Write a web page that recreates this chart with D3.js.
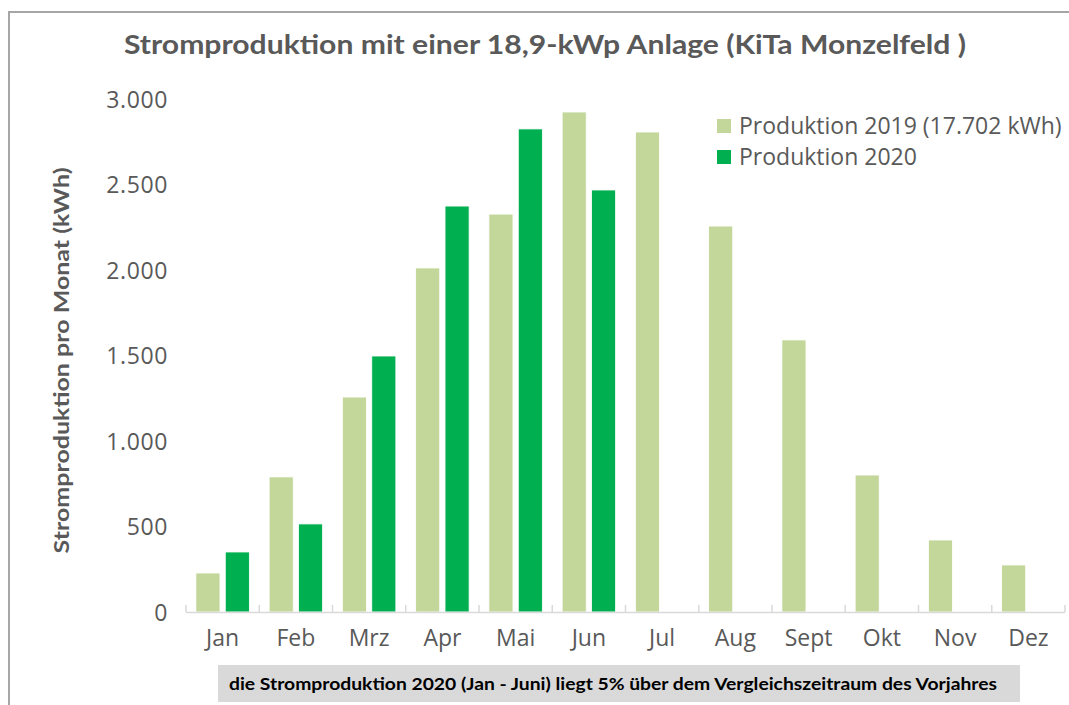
<!DOCTYPE html>
<html><head><meta charset="utf-8">
<script src="https://cdn.jsdelivr.net/npm/d3@7"></script>
<style>
html,body{margin:0;padding:0;background:#fff;}
svg{display:block;}
</style></head>
<body>
<svg id="chart" width="1069" height="705"></svg>
<script>
const months = ["Jan","Feb","Mrz","Apr","Mai","Jun","Jul","Aug","Sept","Okt","Nov","Dez"];
const values2019 = [228, 790, 1257, 2012, 2327, 2924, 2807, 2257, 1591, 801, 421, 275];
const values2020 = [351, 515, 1497, 2374, 2825, 2468, null, null, null, null, null, null];
const seriesNames = ["Produktion 2019 (17.702 kWh)", "Produktion 2020"];
const seriesColors = ["#c4d79b", "#00b050"];
const yTicks = [0, 500, 1000, 1500, 2000, 2500, 3000];
const titleText = "Stromproduktion mit einer 18,9-kWp Anlage (KiTa Monzelfeld )";
const yTitle = "Stromproduktion pro Monat (kWh)";
const noteText = "die Stromproduktion 2020 (Jan - Juni) liegt 5% über dem Vergleichszeitraum des Vorjahres";

(function () {
const svg = d3.select("#chart");
const W = 1069, H = 705;
const pLeft = 186, pRight = 1065, pTop = 99, pBottom = 612;

// frame
svg.append("line").attr("x1", 8).attr("x2", W).attr("y1", 12).attr("y2", 12)
  .attr("stroke", "#a6a6a6").attr("stroke-width", 2);
svg.append("line").attr("x1", 9).attr("x2", 9).attr("y1", 11).attr("y2", H)
  .attr("stroke", "#a6a6a6").attr("stroke-width", 2);

const x0 = d3.scaleBand().domain(months).range([pLeft, pRight]).paddingInner(0.27).paddingOuter(0.135);
const x1 = d3.scaleBand().domain([0, 1]).range([0, x0.bandwidth()]).paddingInner(0.18);
const y = d3.scaleLinear().domain([0, 3000]).range([pBottom, pTop]);

// title
svg.append("text").attr("x", 545).attr("y", 54).attr("text-anchor", "middle")
  .attr("font-family", "Lato, 'Open Sans', sans-serif").attr("font-weight", "bold")
  .attr("font-size", 26).attr("fill", "#595959")
  .attr("textLength", 842).attr("lengthAdjust", "spacingAndGlyphs")
  .text(titleText);

// y axis labels
const yAxis = d3.axisLeft(y).tickValues(yTicks).tickSize(0).tickPadding(0)
  .tickFormat(d => d3.format(",")(d).replace(/,/g, "."));
const gy = svg.append("g").attr("transform", `translate(168,0)`).call(yAxis);
gy.select(".domain").remove();
gy.selectAll("text").attr("font-family", "'Open Sans', sans-serif").attr("font-size", 23)
  .attr("letter-spacing", "0.6px")
  .attr("fill", "#595959").attr("dy", "0.35em");

// y title
svg.append("text").attr("transform", `translate(69,${(553+168)/2}) rotate(-90)`)
  .attr("text-anchor", "middle")
  .attr("font-family", "Lato, 'Open Sans', sans-serif").attr("font-weight", "bold")
  .attr("font-size", 20).attr("fill", "#595959")
  .attr("textLength", 386).attr("lengthAdjust", "spacingAndGlyphs")
  .text(yTitle);

// bars
const data = months.map((m, i) => ({m, v: [values2019[i], values2020[i]]}));
const groups = svg.append("g").selectAll("g").data(data).join("g")
  .attr("transform", d => `translate(${x0(d.m)},0)`);
groups.selectAll("rect").data(d => d.v.map((v, s) => ({v, s})).filter(e => e.v != null))
  .join("rect")
  .attr("x", e => x1(e.s)).attr("width", x1.bandwidth())
  .attr("y", e => y(e.v)).attr("height", e => y(0) - y(e.v))
  .attr("fill", e => seriesColors[e.s])
  .attr("stroke", "#ffffff").attr("stroke-width", 0.8);

// x axis
const xAxis = d3.axisBottom(x0).tickSize(0).tickPadding(0);
const gx = svg.append("g").attr("transform", `translate(0,${pBottom})`).call(xAxis);
gx.select(".domain").remove();
gx.selectAll("text").attr("font-family", "'Open Sans', sans-serif").attr("font-size", 23)
  .attr("fill", "#595959").attr("y", 26).attr("dy", "0.35em");
svg.append("line").attr("x1", pLeft).attr("x2", pRight).attr("y1", pBottom + 0.5).attr("y2", pBottom + 0.5)
  .attr("stroke", "#d9d9d9").attr("stroke-width", 1.5);
const step = x0.step();
const tickXs = d3.range(months.length + 1).map(i => pLeft + i * step);
svg.append("g").selectAll("line").data(tickXs).join("line")
  .attr("x1", d => d).attr("x2", d => d).attr("y1", pBottom - 7).attr("y2", pBottom)
  .attr("stroke", "#d9d9d9").attr("stroke-width", 1.5);

// legend
const lg = svg.append("g");
seriesNames.forEach((name, i) => {
  const yy = 126 + i * 31;
  lg.append("rect").attr("x", 717).attr("y", yy - 7).attr("width", 14).attr("height", 14)
    .attr("fill", seriesColors[i]);
  lg.append("text").attr("x", 739).attr("y", yy).attr("dy", "0.35em")
    .attr("font-family", "'Open Sans', sans-serif").attr("font-size", 23).attr("fill", "#595959")
    .text(name);
});

// note box
svg.append("rect").attr("x", 218).attr("y", 665).attr("width", 802).attr("height", 37).attr("fill", "#d9d9d9");
svg.append("text").attr("x", 613).attr("y", 684).attr("dy", "0.35em").attr("text-anchor", "middle")
  .attr("font-family", "Lato, 'Open Sans', sans-serif").attr("font-weight", "bold")
  .attr("font-size", 17).attr("fill", "#000")
  .attr("textLength", 768).attr("lengthAdjust", "spacingAndGlyphs")
  .text(noteText);
})();
</script>
</body></html>
